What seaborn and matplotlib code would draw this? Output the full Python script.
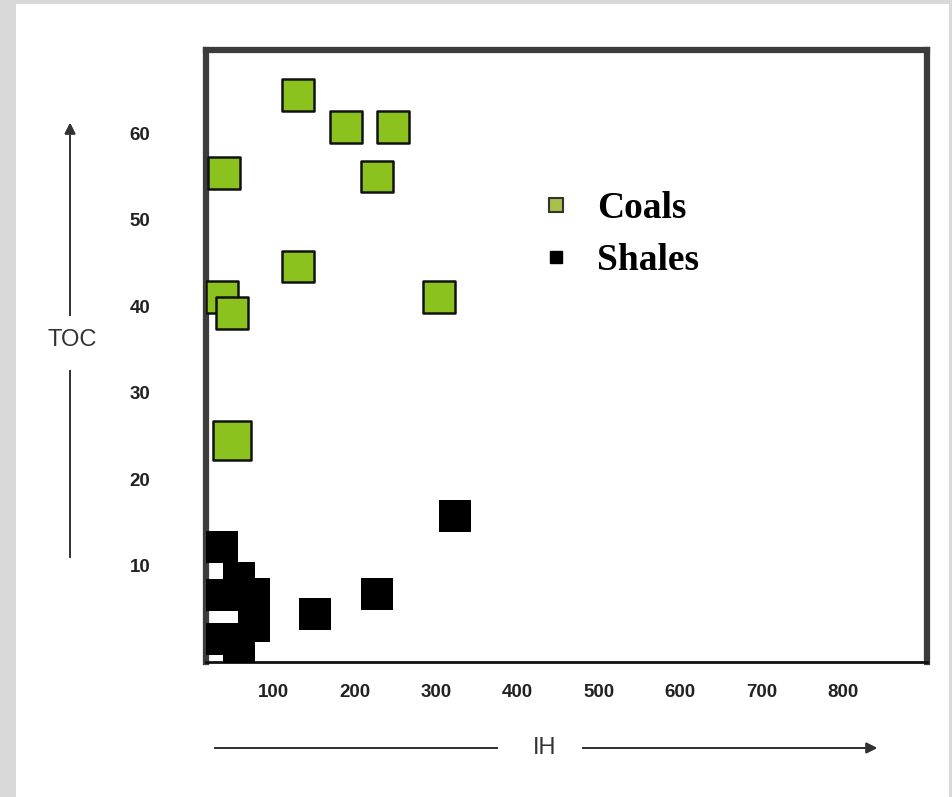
import pandas as pd
import seaborn as sns
import matplotlib.pyplot as plt
from matplotlib.lines import Line2D
from matplotlib.patches import Rectangle

# IH (x) and TOC (y)
coal_ih = [130, 189, 247, 39, 227, 130, 37, 49, 303, 49]
coal_toc = [64.4, 60.7, 60.7, 55.4, 55.0, 44.6, 41.1, 39.2, 41.1, 24.5]
shale_ih = [37, 57, 76, 76, 37, 37, 57, 323, 151, 227]
shale_toc = [12.2, 8.6, 6.8, 3.1, 6.6, 1.5, 0.5, 15.8, 4.5, 6.8]
x_ticks = [100, 200, 300, 400, 500, 600, 700, 800]
y_ticks = [10, 20, 30, 40, 50, 60]

coals = pd.DataFrame({'IH': coal_ih, 'TOC': coal_toc})
shales = pd.DataFrame({'IH': shale_ih, 'TOC': shale_toc})

sns.set_style('white')
plt.rcParams['font.family'] = ['Liberation Sans', 'DejaVu Sans']

green = '#8cc21e'
frame = '#3c3c3c'

fig = plt.figure(figsize=(9.53, 7.97), dpi=100)
fig.patch.set_facecolor('#d9d9d9')
fig.patches.append(Rectangle((16 / 953, 0), 933 / 953, 793 / 797,
                             transform=fig.transFigure, facecolor='white',
                             edgecolor='none', zorder=-5))

ax = fig.add_axes([0.2162, 0.1694, 0.7565, 0.7679])
ax.set_facecolor('white')

coal_sizes = [520] * len(coals)
coal_sizes[-1] = 780
sns.scatterplot(data=shales, x='IH', y='TOC', ax=ax, marker='s', s=540,
                color='black', edgecolor='black', linewidth=0, legend=False,
                zorder=3)
sns.scatterplot(data=coals, x='IH', y='TOC', ax=ax, marker='s', s=coal_sizes,
                color=green, edgecolor='#111111', linewidth=1.8, legend=False,
                zorder=4)

ax.set_xlim(17, 903)
ax.set_ylim(-1.1, 69.6)
ax.set_xticks(x_ticks)
ax.set_yticks(y_ticks)
ax.set_xlabel('')
ax.set_ylabel('')
for lab in ax.get_xticklabels() + ax.get_yticklabels():
    lab.set_fontweight('bold')
    lab.set_fontsize(13.5)
    lab.set_color('#222222')
ax.tick_params(axis='y', length=8, width=3, color='#555555', pad=32)
ax.tick_params(axis='x', length=4, width=3, color='#555555', pad=12)

for side in ['top', 'left', 'right']:
    ax.spines[side].set_linewidth(4.5)
    ax.spines[side].set_color(frame)
ax.spines['bottom'].set_linewidth(2)
ax.spines['bottom'].set_color('#111111')

handles = [
    Line2D([], [], marker='s', linestyle='none', markersize=10,
           markerfacecolor='#a6c24a', markeredgecolor='#333333',
           markeredgewidth=1.5, label='Coals'),
    Line2D([], [], marker='s', linestyle='none', markersize=9,
           markerfacecolor='black', markeredgecolor='black', label='Shales'),
]
leg = ax.legend(handles=handles, loc='upper left',
                bbox_to_anchor=(503 / 953, 1 - 157 / 797),
                bbox_transform=fig.transFigure, frameon=False,
                prop={'family': 'Liberation Serif', 'weight': 'bold', 'size': 27},
                handletextpad=0.6, labelspacing=0.45, handlelength=1.0)
for t in leg.get_texts():
    t.set_color('black')

# axis titles with arrows drawn in figure space
arrow_kw = dict(arrowstyle='-|>', color='#333333', lw=1.3, mutation_scale=16)
line_kw = dict(arrowstyle='-', color='#333333', lw=1.3)
fig.add_artist(plt.annotate('', xy=(0.0735, 0.8494), xytext=(0.0735, 0.601),
                            xycoords='figure fraction', arrowprops=arrow_kw))
fig.add_artist(plt.annotate('', xy=(0.0735, 0.5383), xytext=(0.0735, 0.2974),
                            xycoords='figure fraction', arrowprops=line_kw))
fig.text(0.0755, 0.5734, 'TOC', ha='center', va='center', fontsize=17,
         color='#333333')

fig.add_artist(plt.annotate('', xy=(0.5247, 0.0615), xytext=(0.2225, 0.0615),
                            xycoords='figure fraction', arrowprops=line_kw))
fig.add_artist(plt.annotate('', xy=(0.9234, 0.0615), xytext=(0.6086, 0.0615),
                            xycoords='figure fraction', arrowprops=arrow_kw))
fig.text(0.5719, 0.0615, 'IH', ha='center', va='center', fontsize=17,
         color='#333333')

fig.savefig('out.png', dpi=100, facecolor=fig.get_facecolor())
